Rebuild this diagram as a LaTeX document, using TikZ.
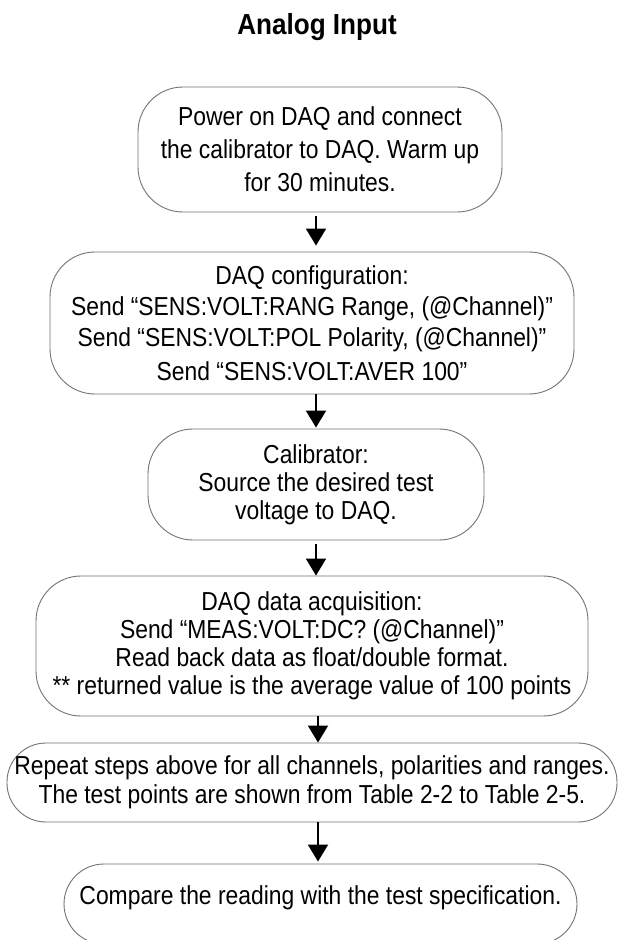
\documentclass[tikz,border=0pt]{standalone}
\usepackage{fontspec}
\setmainfont{Liberation Sans}[FakeStretch=0.88]
\newfontfamily\titlefont{Liberation Sans}[FakeStretch=0.9]
\usetikzlibrary{arrows.meta}
\begin{document}
\begin{tikzpicture}[x=1pt,y=-1pt,
  box/.style={draw=black!55, line width=0.9pt, rounded corners=45pt, align=center, inner sep=0pt},
  flow/.style={-{Triangle[width=20pt,length=17pt]}, line width=2pt}]
\useasboundingbox (0,0) rectangle (620,940);
\fill[white] (0,0) rectangle (620,940);
\node[anchor=base, font=\titlefont\bfseries\fontsize{29}{32}\selectfont] (title) at (317,34) {Analog Input};

\node[box, minimum width=364pt, minimum height=125pt, font=\fontsize{26}{33}\selectfont] (b1) at (320,149.5)
  {Power on DAQ and connect\\the calibrator to DAQ. Warm up\\for 30 minutes.};
\node[box, minimum width=524pt, minimum height=142pt, font=\fontsize{26}{31}\selectfont] (b2) at (312,323)
  {DAQ configuration:\\Send ``SENS:VOLT:RANG Range, (@Channel)''\\Send ``SENS:VOLT:POL Polarity, (@Channel)''\\[3pt]Send ``SENS:VOLT:AVER 100''};
\node[box, minimum width=336pt, minimum height=111pt, font=\fontsize{26}{28}\selectfont] (b3) at (316,484.5)
  {Calibrator:\\Source the desired test\\voltage to DAQ.};
\node[box, minimum width=552pt, minimum height=140pt, font=\fontsize{26}{28}\selectfont] (b4) at (312,646)
  {DAQ data acquisition:\\Send ``MEAS:VOLT:DC? (@Channel)''\\Read back data as float/double format.\\** returned value is the average value of 100 points};
\node[box, rounded corners=39pt, minimum width=610pt, minimum height=79pt, font=\fontsize{26}{29}\selectfont] (b5) at (312,782.5)
  {Repeat steps above for all channels, polarities and ranges.\\The test points are shown from Table 2-2 to Table 2-5.};
\node[box, rounded corners=40pt, minimum width=513pt, minimum height=80pt] (b6) at (320.5,904) {};
\node[font=\fontsize{26}{29}\selectfont] (t6) at (320.5,898) {Compare the reading with the test specification.};

\draw[flow, shorten >=6pt] ([xshift=-4pt,yshift=-4pt]b1.south) -- ([xshift=4pt]b2.north);
\draw[flow, shorten >=1pt] ([xshift=4pt]b2.south) -- (b3.north);
\draw[flow] ([yshift=-4pt]b3.south) -- ([xshift=4pt]b4.north);
\draw[flow] ([xshift=6pt]b4.south) -- ([xshift=6pt]b5.north);
\draw[flow, shorten >=2pt] ([xshift=6pt]b5.south) -- ([xshift=-2.5pt]b6.north);
\end{tikzpicture}
\end{document}
